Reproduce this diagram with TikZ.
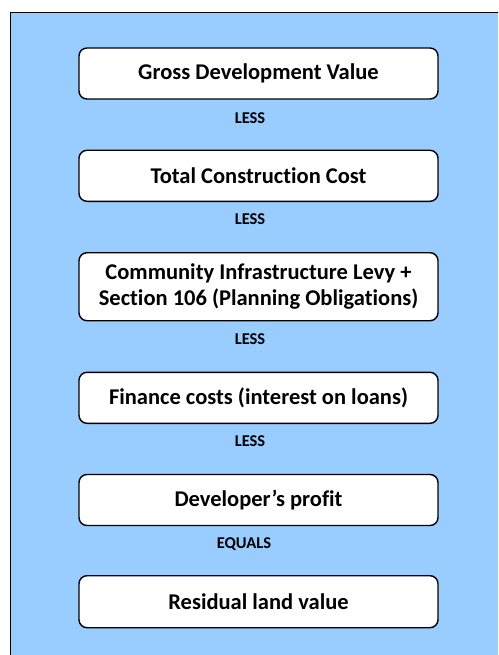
\documentclass[tikz,border=0pt]{standalone}
\usepackage{fontspec}
\setmainfont{Carlito}[Ligatures=NoCommon]
\usepackage{tikz}

\definecolor{panelblue}{HTML}{99CCFF}

\begin{document}
\begin{tikzpicture}[x=1pt, y=-1pt,
    stage/.style={draw, line width=1.4pt, fill=white, rounded corners=8pt,
        minimum width=359pt, align=center, font=\bfseries\fontsize{22.5}{26}\selectfont},
    joiner/.style={font=\bfseries\fontsize{16.5}{19}\selectfont}]
    % Page frame, cut off along the right and bottom edges
    \useasboundingbox (0,0) rectangle (498,655);
    \clip (0,0) rectangle (498,655);
    \draw[line width=1.4pt, fill=panelblue] (10.5,12.5) rectangle (520,680);

    % The stages of the calculation, top to bottom
    \node[stage, minimum height=51pt] (gdv) at (258.5,73.5) {Gross Development Value};
    \node[stage, minimum height=51pt] (build) at (258.5,175.8) {Total Construction Cost};
    \node[stage, minimum height=68pt] (levy) at (258.5,286.7)
        {Community Infrastructure Levy +\\Section 106 (Planning Obligations)};
    \node[stage, minimum height=51pt] (finance) at (258.5,397.8) {Finance costs (interest on loans)};
    \node[stage, minimum height=51pt] (profit) at (258.5,500) {Developer’s profit};
    \node[stage, minimum height=52pt] (land) at (258.5,601.7) {Residual land value};

    % Words between the stages
    \node[joiner] (less1) at (250,118) {LESS};
    \node[joiner] (less2) at (250,219) {LESS};
    \node[joiner] (less3) at (250,339) {LESS};
    \node[joiner] (less4) at (250,441.5) {LESS};
    \node[joiner] (equals) at (244,544) {EQUALS};
\end{tikzpicture}
\end{document}
